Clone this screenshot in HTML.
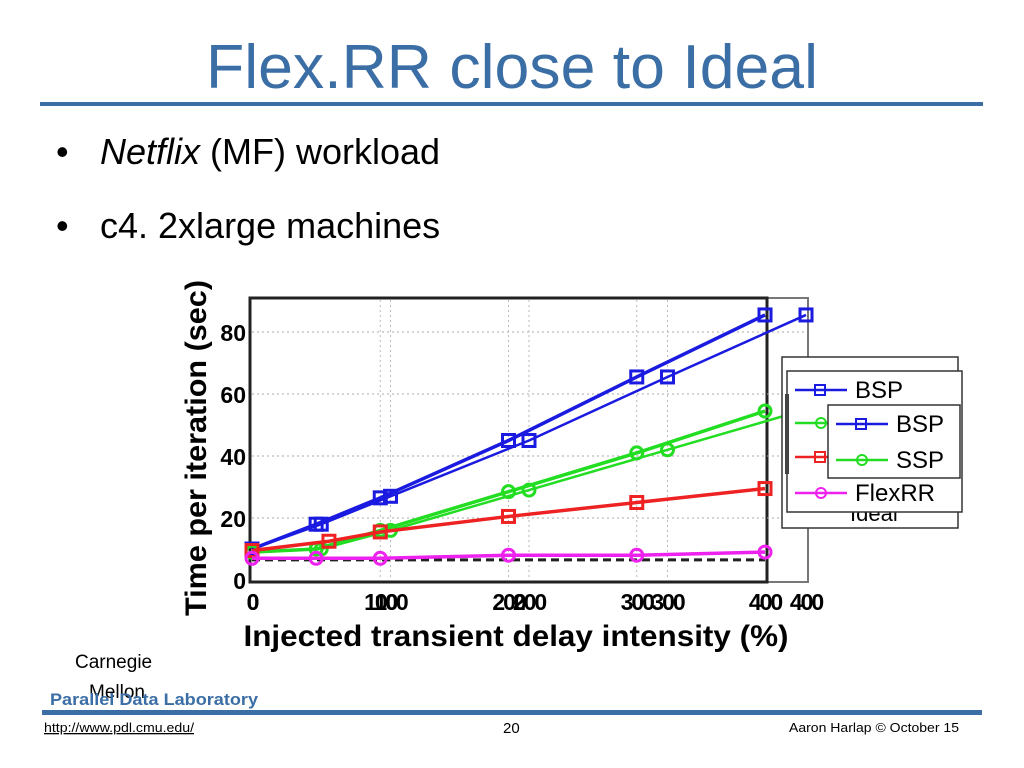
<!DOCTYPE html>
<html><head><meta charset="utf-8"><style>
body{margin:0;width:1024px;height:768px;background:#fff;overflow:hidden;font-family:"Liberation Sans",sans-serif;position:relative}
.a{position:absolute;white-space:nowrap}
svg text{font-family:"Liberation Sans",sans-serif}
</style></head><body>
<div class="a" style="left:0;width:1024px;top:0;height:768px">
<svg width="1024" height="768" style="position:absolute;left:0;top:0">
<text x="206" y="88" font-size="62" fill="#3b6ea5" textLength="612" lengthAdjust="spacingAndGlyphs">Flex.RR close to Ideal</text>
<rect x="40" y="102" width="943" height="4" fill="#3b6ea5"/>
<text x="56" y="164" font-size="36">•<tspan x="100" font-style="italic">Netflix</tspan> (MF) workload</text>
<text x="56" y="238" font-size="36">•<tspan x="100">c4. 2xlarge machines</tspan></text>
<text x="75" y="668" font-size="19">Carnegie</text>
<text x="89" y="698" font-size="19">Mellon</text>
<text x="50" y="705" font-size="17" font-weight="bold" fill="#3b6ea5" textLength="208" lengthAdjust="spacingAndGlyphs">Parallel Data Laboratory</text>
<rect x="42" y="710" width="940" height="5" fill="#3b6ea5"/>
<text x="44" y="732" font-size="13" fill="#000" text-decoration="underline" textLength="150" lengthAdjust="spacingAndGlyphs">http://www.pdl.cmu.edu/</text>
<text x="503" y="733" font-size="15">20</text>
<text x="789" y="732" font-size="13" textLength="170" lengthAdjust="spacingAndGlyphs">Aaron Harlap © October 15</text>
<g id="chart"></g>
</svg></div>
<script>
const xVals=[0,50,100,200,300,400];
const redX=[0,60,100,200,300,400];
const bspA=[10,18,26.5,45,65.5,85.5];
const sspA=[9,10,16,28.5,41,54.5];
const redA=[9.5,12.5,15.5,20.5,25,29.5];
const flexA=[7,7,7,8,8,9];
const idealV=[6.5,6.5,6.5,6.5,6.5,6.5];
const bspB=[10,18,27,45,65.5,85.5];
const sspB=[9,10,16,29,42,55];
const yTicks=[0,20,40,60,80];
const xTicksA=[0,100,200,300,400];
const NS="http://www.w3.org/2000/svg";
const g=document.getElementById('chart');
const xA=v=>252+v*(765-252)/400;
const xB=v=>252+v*(806-252)/400;
const y=v=>580-v*(580-332)/80;
function mk(t,at){const e=document.createElementNS(NS,t);for(const k in at)e.setAttribute(k,at[k]);g.appendChild(e);return e;}
let r=mk('rect',{x:250,y:298,width:558,height:284,fill:'#fff',stroke:'#777',"stroke-width":2});


r=mk('rect',{x:250,y:298,width:517,height:284,fill:'none',stroke:'#222',"stroke-width":3});


yTicks.forEach(t=>{if(t>0){let l=mk('line',{x1:252,x2:806,y1:y(t),y2:y(t),stroke:'#aaa',"stroke-dasharray":"2 3"});

}
let tx=mk('text',{x:246,y:y(t)+9,"font-size":23,"font-weight":"bold","text-anchor":"end"});tx.textContent=t;

});
xTicksA.forEach(t=>{[xA,xB].forEach(f=>{if(t>0&&t<400){let l=mk('line',{x1:f(t),x2:f(t),y1:300,y2:580,stroke:'#bbb',"stroke-dasharray":"2 3"});

}
let tx=mk('text',{x:f(t),y:610,"font-size":23,"font-weight":"bold","text-anchor":"middle","letter-spacing":"-2"});tx.textContent=t;

});});
let yl=mk('text',{x:0,y:0,"font-size":30,"font-weight":"bold",transform:"translate(206,448) rotate(-90)","text-anchor":"middle",textLength:336,lengthAdjust:"spacingAndGlyphs"});yl.textContent='Time per iteration (sec)';


let xl=mk('text',{x:516,y:646,"font-size":30,"font-weight":"bold","text-anchor":"middle",textLength:545,lengthAdjust:"spacingAndGlyphs"});xl.textContent='Injected transient delay intensity (%)';


function series(xs,vals,fx,col,w,mark,name,dash){
 const pts=vals.map((v,i)=>fx(xs[i])+','+y(v)).join(' ');
 let p=mk('polyline',{points:pts,fill:'none',stroke:col,"stroke-width":w});if(dash)p.setAttribute('stroke-dasharray',dash);
 
 
 if(!mark)return;
 vals.forEach((v,i)=>{let m;const cx=fx(xs[i]),cy=y(v);
  if(mark==='s')m=mk('rect',{x:cx-6,y:cy-6,width:12,height:12,fill:'none',stroke:col,"stroke-width":3});
  else m=mk('circle',{cx:cx,cy:cy,r:6,fill:'none',stroke:col,"stroke-width":3});
  
  });
}
series(xVals,idealV,xA,'#222',3,null,'ideal','8 5');
series(xVals,bspB,xB,'#1a1ae0',2.5,'s','bsp-b');
series(xVals,sspB,xB,'#22dd22',2.5,'o','ssp-b');
series(xVals,bspA,xA,'#1a1ae0',3.5,'s','bsp-a');
series(xVals,sspA,xA,'#22dd22',3.5,'o','ssp-a');
series(redX,redA,xA,'#ee2222',3.5,'s','red-series');
series(xVals,flexA,xA,'#ee22ee',3.5,'o','flexrr');
function legend(x0,y0,w,h,items,name,fs){
 let b=mk('rect',{x:x0,y:y0,width:w,height:h,fill:'#fff',stroke:'#333',"stroke-width":1.5});
 
 
 items.forEach((it,i)=>{const yy=it[3];
  let l=mk('line',{x1:x0+8,x2:x0+60,y1:yy,y2:yy,stroke:it[1],"stroke-width":2.5});
  
  
  let m=it[2]==='s'?mk('rect',{x:x0+28,y:yy-5,width:10,height:10,fill:'none',stroke:it[1],"stroke-width":2}):mk('circle',{cx:x0+34,cy:yy,r:5,fill:'none',stroke:it[1],"stroke-width":2});
  
  
  let t=mk('text',{x:x0+68,y:yy+8,"font-size":fs});t.textContent=it[0];
  
  });
}
legend(782,357,176,171,[['Ideal','#fff','n',513]],'legend-back',22);
legend(787,371,175,141,[['BSP','#1a1ae0','s',390],['SSP','#22dd22','o',423],['','#ee2222','s',457],['FlexRR','#ee22ee','o',493]],'legend-middle',24);
let e=mk('rect',{x:785,y:394,width:4,height:80,fill:'#444'});


legend(828,405,132,73,[['BSP','#1a1ae0','s',424],['SSP','#22dd22','o',460]],'legend-front',24);
</script>
</body></html>
